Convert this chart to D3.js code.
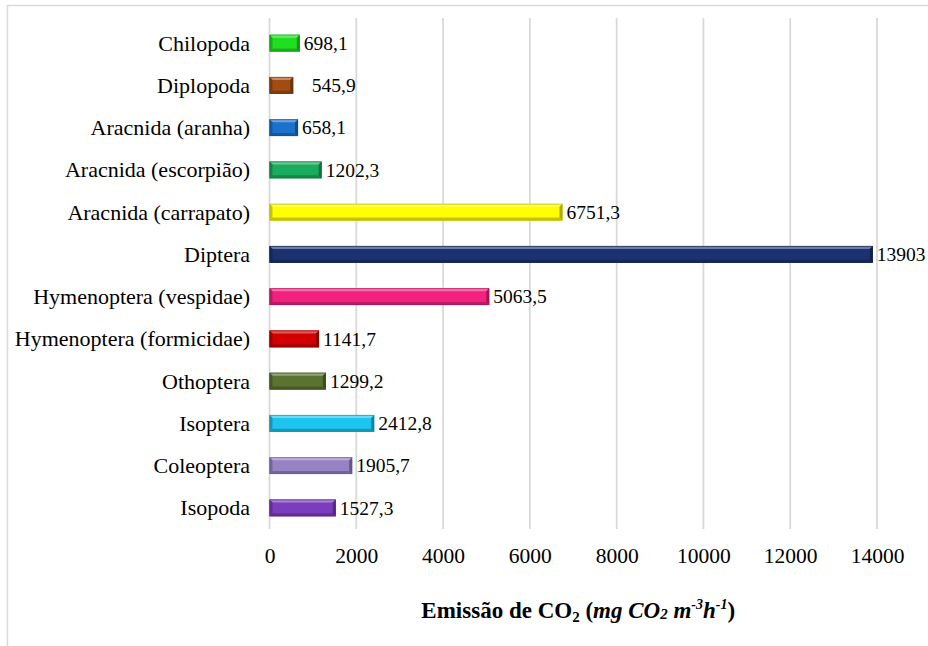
<!DOCTYPE html>
<html>
<head>
<meta charset="utf-8">
<script src="https://cdn.jsdelivr.net/npm/d3@7"></script>
<style>
  html, body { margin: 0; padding: 0; background: #fff; }
  svg { display: block; }
  text { font-family: "Liberation Serif", "Times New Roman", serif; fill: #000; }
</style>
</head>
<body>
<svg id="chart" width="928" height="646"></svg>
<script>
// Categories, top to bottom
const categories = [
  "Chilopoda", "Diplopoda", "Aracnida (aranha)", "Aracnida (escorpião)",
  "Aracnida (carrapato)", "Diptera", "Hymenoptera (vespidae)",
  "Hymenoptera (formicidae)", "Othoptera", "Isoptera", "Coleoptera", "Isopoda"
];
// CO2 emission per group (mg CO2 m-3 h-1)
const values = [698.1, 545.9, 658.1, 1202.3, 6751.3, 13903, 5063.5, 1141.7, 1299.2, 2412.8, 1905.7, 1527.3];
// Value labels as printed beside each bar
const valueLabels = ["698,1", "   545,9", "658,1", "1202,3", "6751,3", "13903", "5063,5", "1141,7", "1299,2", "2412,8", "1905,7", "1527,3"];
// Bar fill colours
const colors = ["#1fe01f", "#a24c14", "#1b72cc", "#19ac5c", "#ffff00", "#1b3272",
                "#f2207f", "#d20000", "#5a7330", "#1cc4ee", "#9683c4", "#7b3dbd"];
const xTicks = [0, 2000, 4000, 6000, 8000, 10000, 12000, 14000];

const svg = d3.select("#chart");
const margin = { left: 269.5, right: 51, top: 22, bottom: 117 };
const W = 928, H = 646;

const x = d3.scaleLinear().domain([0, 14000]).range([margin.left, W - margin.right]);
const y = d3.scaleBand().domain(categories).range([margin.top, H - margin.bottom]).paddingInner(0.6).paddingOuter(0.3);

// Outer frame (left and top edges)
svg.append("path")
  .attr("d", `M7.5,${H} L7.5,5.5 L${W},5.5`)
  .attr("fill", "none").attr("stroke", "#d9d9d9").attr("stroke-width", 1.5);

// Vertical gridlines
svg.append("g").selectAll("line").data(xTicks).join("line")
  .attr("x1", d => x(d)).attr("x2", d => x(d))
  .attr("y1", 18).attr("y2", 529)
  .attr("stroke", "#d9d9d9").attr("stroke-width", 1.8);

// X axis tick labels
const xAxis = d3.axisBottom(x).tickValues(xTicks).tickSize(0).tickPadding(0).tickFormat(d3.format("d"));
const gx = svg.append("g").attr("transform", "translate(0,548)").call(xAxis);
gx.select(".domain").remove();
gx.selectAll("text").attr("font-size", 21.5).attr("font-family", "Liberation Serif").attr("dy", "0.72em");

// Category labels
const yAxis = d3.axisLeft(y).tickSize(0).tickPadding(19.5);
const gy = svg.append("g").attr("transform", `translate(${margin.left},0)`).call(yAxis);
gy.select(".domain").remove();
gy.selectAll("text").attr("font-size", 22).attr("font-family", "Liberation Serif").attr("dy", "0.34em");

// Bevelled bars
const b = 3;
const bars = svg.append("g").selectAll("g").data(categories).join("g");
bars.each(function(c, i) {
  const g = d3.select(this);
  const x0 = x(0), x1 = x(values[i]);
  const y0 = y(c), h = y.bandwidth();
  const base = d3.color(colors[i]);
  const light = d3.interpolateRgb(base, "#ffffff")(0.35);
  const dark = base.darker(0.7).formatHex();
  const darker = base.darker(1.1).formatHex();
  g.append("rect").attr("x", x0).attr("y", y0).attr("width", x1 - x0).attr("height", h)
    .attr("fill", base.formatHex());
  g.append("polygon")
    .attr("points", [[x0, y0], [x1, y0], [x1 - b, y0 + b], [x0 + b, y0 + b]].join(" "))
    .attr("fill", light);
  g.append("polygon")
    .attr("points", [[x0, y0 + h], [x1, y0 + h], [x1 - b, y0 + h - b], [x0 + b, y0 + h - b]].join(" "))
    .attr("fill", dark);
  g.append("polygon")
    .attr("points", [[x1, y0], [x1, y0 + h], [x1 - b, y0 + h - b], [x1 - b, y0 + b]].join(" "))
    .attr("fill", darker);
  g.append("polygon")
    .attr("points", [[x0, y0], [x0, y0 + h], [x0 + b, y0 + h - b], [x0 + b, y0 + b]].join(" "))
    .attr("fill", dark);
  g.append("rect").attr("x", x0 + 0.5).attr("y", y0 + 0.5).attr("width", x1 - x0 - 1).attr("height", h - 1)
    .attr("fill", "none").attr("stroke", darker).attr("stroke-width", 1).attr("stroke-opacity", 0.6);
});

// Value labels
svg.append("g").selectAll("text").data(categories).join("text")
  .attr("x", (c, i) => x(values[i]) + 4)
  .attr("y", c => y(c) + y.bandwidth() / 2)
  .attr("dy", "0.34em")
  .attr("font-size", 19.5)
  .style("white-space", "pre")
  .text((c, i) => valueLabels[i]);

// Axis title
const title = svg.append("text")
  .attr("x", (x(0) + x(14000)) / 2 + 5)
  .attr("y", 618)
  .attr("text-anchor", "middle")
  .attr("font-size", 23)
  .attr("font-weight", "bold");
title.append("tspan").text("Emissão de CO");
title.append("tspan").attr("font-size", 15).attr("dy", 4).text("2");
title.append("tspan").attr("dy", -4).text(" (");
title.append("tspan").attr("font-style", "italic").text("mg CO");
title.append("tspan").attr("font-style", "italic").attr("font-size", 15).attr("dy", 1).text("2");
title.append("tspan").attr("font-style", "italic").attr("dy", -1).text(" m");
title.append("tspan").attr("font-style", "italic").attr("font-size", 14).attr("dy", -9).text("-3");
title.append("tspan").attr("font-style", "italic").attr("dy", 9).text("h");
title.append("tspan").attr("font-style", "italic").attr("font-size", 14).attr("dy", -9).text("-1");
title.append("tspan").attr("dy", 9).text(")");
</script>
</body>
</html>
